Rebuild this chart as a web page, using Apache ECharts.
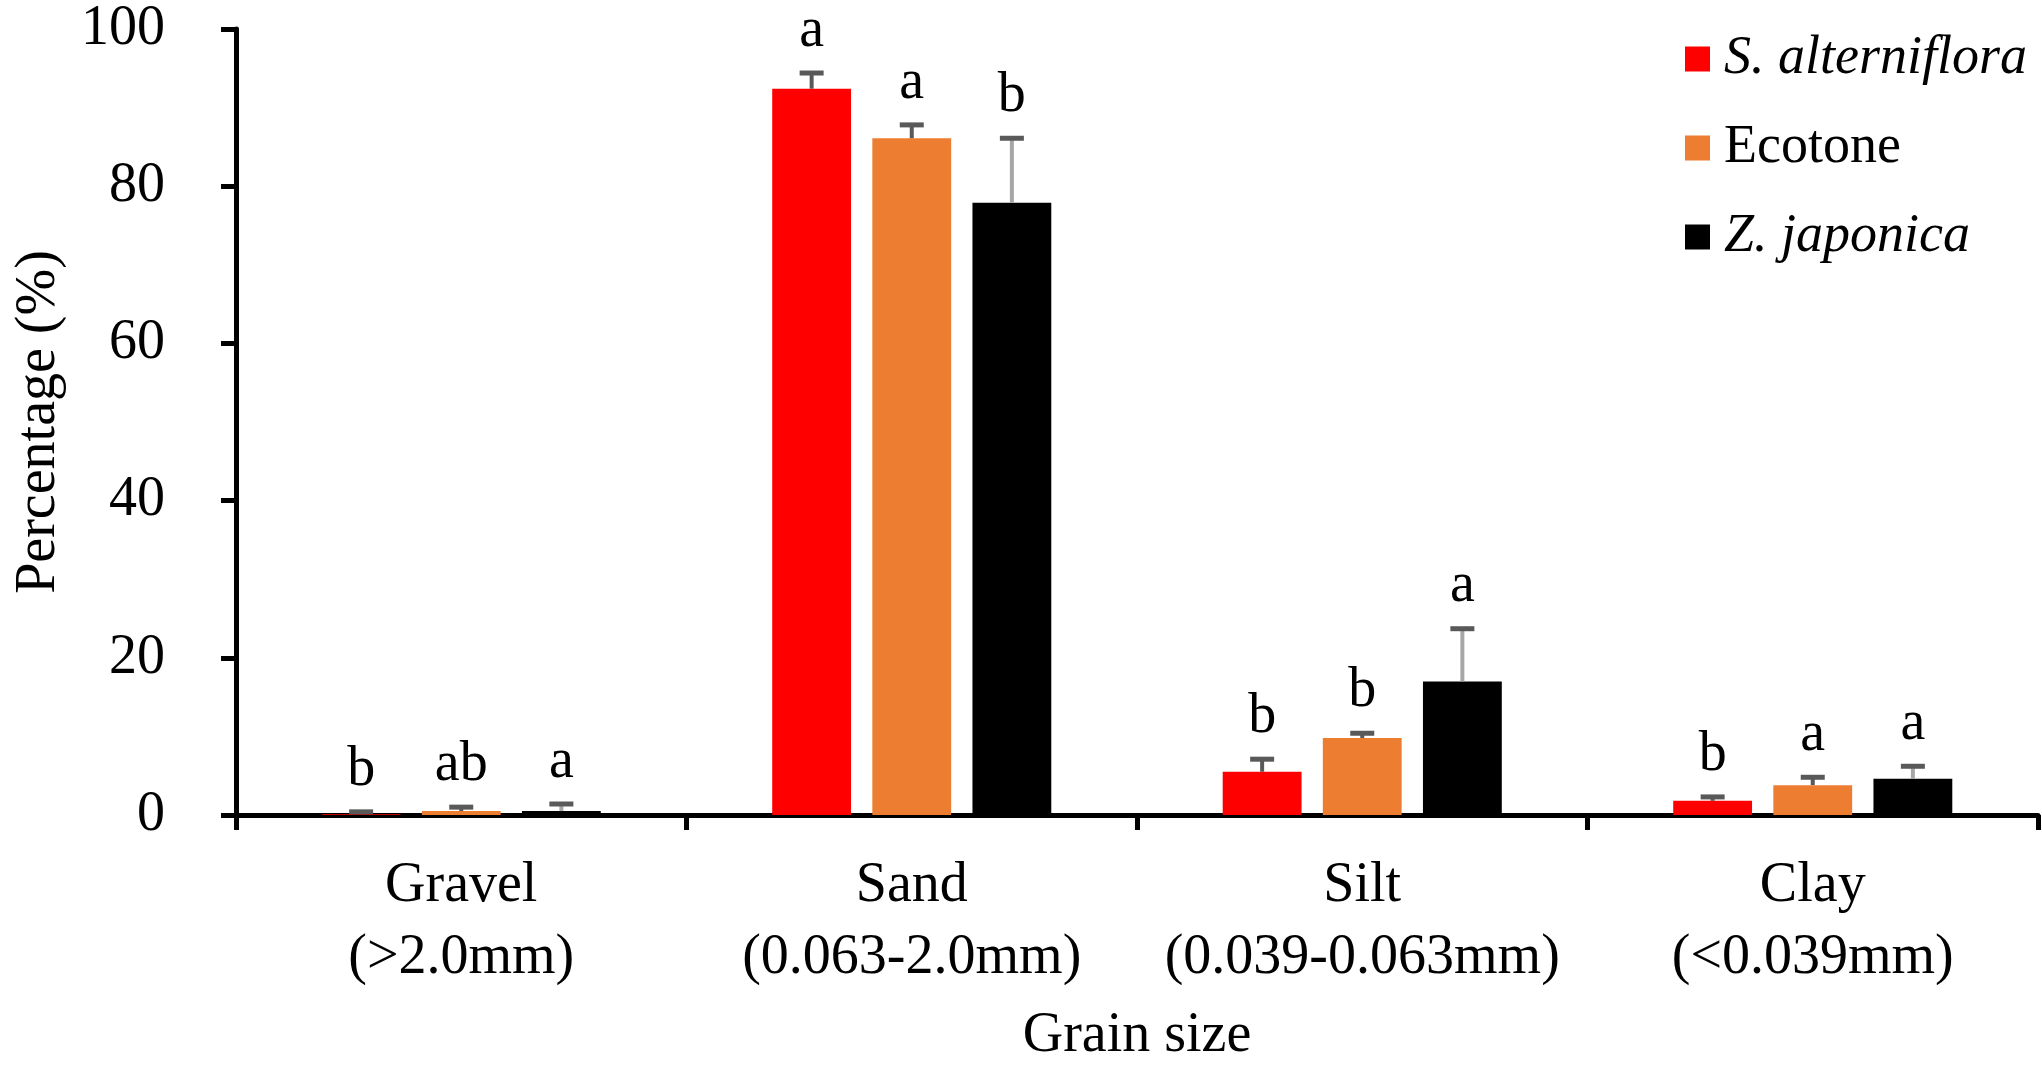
<!DOCTYPE html>
<html>
<head>
<meta charset="utf-8">
<script src="https://cdn.jsdelivr.net/npm/echarts@6/dist/echarts.min.js"></script>
<style>
  html, body { margin: 0; padding: 0; background: #fff; }
  #chart { width: 2042px; height: 1070px; }
</style>
</head>
<body>
<div id="chart"></div>
<script>
const categories = ['Gravel\n(>2.0mm)', 'Sand\n(0.063-2.0mm)', 'Silt\n(0.039-0.063mm)', 'Clay\n(<0.039mm)'];
const seriesNames = ['S. alterniflora', 'Ecotone', 'Z. japonica'];

const alterniflora = [0.1, 92.4, 5.5, 1.8];
const alternifloraErr = [0.3, 2.0, 1.6, 0.5];
const alternifloraLetters = ['b', 'a', 'b', 'b'];

const ecotone = [0.5, 86.1, 9.8, 3.8];
const ecotoneErr = [0.5, 1.7, 0.6, 1.0];
const ecotoneLetters = ['ab', 'a', 'b', 'a'];

const japonica = [0.5, 77.9, 17.0, 4.6];
const japonicaErr = [0.9, 8.2, 6.7, 1.6];
const japonicaLetters = ['a', 'b', 'a', 'a'];

const yTicks = [0, 20, 40, 60, 80, 100];

const FONT = '"Liberation Serif", "Times New Roman", serif';
const BAR_RATIO = 0.175;
const GAP_RATIO = 0.27;
const colors = ['#ff0000', '#ed7d31', '#000000'];

// error bar + significance letter, drawn through the axes
function errorSeries(k, means, errs, letters) {
    let stemColor = k === 2 ? '#a6a6a6' : '#595959';
    return {
        type: 'custom',
        name: 'err' + k,
        z: 5,
        clip: false,
        data: means.map((m, i) => [i, m, errs[i]]),
        renderItem: function(params, api) {
            let i = api.value(0), m = api.value(1), e = api.value(2);
            let base = api.coord([i, m]);
            let top = api.coord([i, m + e]);
            let band = api.size([1, 0])[0];
            let bw = band * BAR_RATIO;
            let cx = base[0] + (k - 1) * (bw * (1 + GAP_RATIO));
            return {
                type: 'group',
                children: [{
                    type: 'line',
                    shape: { x1: cx, y1: base[1], x2: cx, y2: top[1] },
                    style: { stroke: stemColor, lineWidth: 4 }
                }, {
                    type: 'line',
                    shape: { x1: cx - 12, y1: top[1], x2: cx + 12, y2: top[1] },
                    style: { stroke: '#595959', lineWidth: 5 }
                }, {
                    type: 'text',
                    style: {
                        text: letters[i],
                        x: cx,
                        y: top[1] - 14,
                        align: 'center',
                        verticalAlign: 'bottom',
                        font: '56px ' + FONT,
                        fill: '#000'
                    }
                }]
            };
        }
    };
}

let myChart = echarts.init(document.getElementById('chart'));

let option = {
    animation: false,
    backgroundColor: '#fff',
    textStyle: { fontFamily: FONT, color: '#000' },
    grid: { left: 236, right: 4, top: 29, bottom: 255 },
    legend: {
        data: seriesNames,
        orient: 'vertical',
        left: 1680,
        top: 27,
        icon: 'rect',
        itemWidth: 25,
        itemHeight: 25,
        itemGap: 35,
        formatter: function(name) {
            return name === 'Ecotone' ? '{n|' + name + '}' : '{i|' + name + '}';
        },
        textStyle: {
            fontFamily: FONT,
            fontSize: 54,
            color: '#000',
            rich: {
                i: { fontFamily: FONT, fontSize: 54, fontStyle: 'italic', lineHeight: 56, color: '#000', padding: [0, 0, 0, 9] },
                n: { fontFamily: FONT, fontSize: 54, fontStyle: 'normal', lineHeight: 56, color: '#000', padding: [0, 0, 0, 9] }
            }
        }
    },
    xAxis: {
        type: 'category',
        data: categories,
        name: 'Grain size',
        nameLocation: 'middle',
        nameGap: 193,
        nameTextStyle: { fontFamily: FONT, fontSize: 56, color: '#000', lineHeight: 56 },
        axisLine: { lineStyle: { color: '#000', width: 5 } },
        axisTick: { show: true, length: 15, lineStyle: { color: '#000', width: 5 } },
        axisLabel: { interval: 0, fontFamily: FONT, fontSize: 56, color: '#000', lineHeight: 72, margin: 35 },
        splitLine: { show: false }
    },
    yAxis: {
        type: 'value',
        min: yTicks[0],
        max: yTicks[yTicks.length - 1],
        interval: yTicks[1] - yTicks[0],
        name: 'Percentage (%)',
        nameLocation: 'middle',
        nameGap: 169,
        nameTextStyle: { fontFamily: FONT, fontSize: 56, color: '#000', lineHeight: 56 },
        axisLine: { show: true, lineStyle: { color: '#000', width: 5 } },
        axisTick: { show: true, length: 15, lineStyle: { color: '#000', width: 5 } },
        axisLabel: { fontFamily: FONT, fontSize: 56, color: '#000', margin: 71 },
        splitLine: { show: false }
    },
    series: [{
        name: seriesNames[0],
        type: 'bar',
        data: alterniflora,
        barWidth: (BAR_RATIO * 100) + '%',
        barGap: (GAP_RATIO * 100) + '%',
        itemStyle: { color: colors[0] }
    }, {
        name: seriesNames[1],
        type: 'bar',
        data: ecotone,
        barWidth: (BAR_RATIO * 100) + '%',
        barGap: (GAP_RATIO * 100) + '%',
        itemStyle: { color: colors[1] }
    }, {
        name: seriesNames[2],
        type: 'bar',
        data: japonica,
        barWidth: (BAR_RATIO * 100) + '%',
        barGap: (GAP_RATIO * 100) + '%',
        itemStyle: { color: colors[2] }
    },
        errorSeries(0, alterniflora, alternifloraErr, alternifloraLetters),
        errorSeries(1, ecotone, ecotoneErr, ecotoneLetters),
        errorSeries(2, japonica, japonicaErr, japonicaLetters)
    ]
};
myChart.setOption(option);
</script>
</body>
</html>
